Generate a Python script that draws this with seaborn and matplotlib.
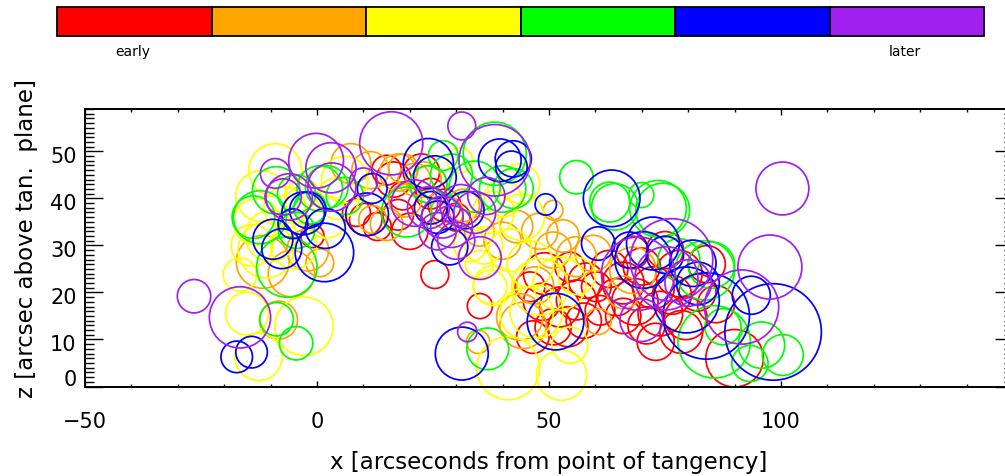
import numpy as np
import pandas as pd
import matplotlib
matplotlib.use("Agg")
import matplotlib.pyplot as plt
import seaborn as sns
from matplotlib.ticker import MultipleLocator
from matplotlib.transforms import ScaledTranslation

# ---- source positions (x, z) and radii, grouped by time bin -------------
phases = ["p1", "p2", "p3", "p4", "p5", "p6"]
phase_colors = ["#ff0000", "#ffa500", "#ffff00", "#00ff00", "#0000ff", "#a020f0"]

red_x = [15.0, 16.5, 10.5, 13.0, 8.5, 17.5, 20.0, 22.5, 24.5, 27.5, 25.4, 35.1, 30.0, 18.5, -1.0,
         45.9, 52.3, 55.9, 50.9, 54.1, 54.5, 60.2, 61.0, 48.5, 57.5, 49.0, 46.5, 58.0, 63.0,
         66.0, 68.5, 70.0, 72.5, 74.0, 76.5, 78.0, 71.0, 66.0, 79.5, 78.5, 82.0, 84.0, 90.0,
         64.5, 75.0, 68.0, 73.0, 86.0]
red_y = [46.0, 44.0, 35.5, 34.0, 37.0, 36.5, 33.0, 45.6, 41.0, 38.5, 23.8, 17.1, 36.0, 40.5, 32.0,
         21.2, 16.9, 18.4, 12.7, 12.7, 25.4, 21.2, 16.2, 18.0, 14.0, 24.0, 10.5, 22.5, 25.0,
         22.0, 18.0, 25.5, 21.0, 15.5, 19.5, 24.0, 13.0, 15.0, 14.5, 11.6, 20.0, 26.0, 6.0,
         19.0, 29.0, 28.5, 9.5, 17.5]
red_r = [3.2, 3.8, 3.5, 3.0, 3.0, 3.3, 3.9, 3.9, 3.3, 3.5, 3.0, 2.7, 3.0, 3.0, 2.5,
         3.2, 4.3, 4.3, 3.9, 4.3, 3.2, 3.2, 3.2, 4.0, 3.8, 4.5, 3.5, 3.8, 4.0,
         4.5, 5.0, 4.0, 4.5, 4.8, 4.2, 5.0, 4.0, 3.8, 4.6, 4.6, 4.0, 4.0, 6.2,
         4.0, 4.0, 3.5, 4.0, 4.0]

orange_x = [-11.7, 0.6, -8.3, 7.3, 18.6, 12.0, 15.0, -2.0, -5.5, 21.0,
            34.7, 44.4, 43.7, 50.9, 55.9, 59.5, 60.6, 50.9, 48.0, 43.0, 40.0, 53.0,
            28.0, 31.5, 35.0, 47.0, 24.0, 68.1, 66.0, 11.5, 17.5, 23.0, 19.0]
orange_y = [26.5, 26.3, 14.1, 47.4, 46.3, 35.5, 34.5, 29.0, 24.0, 44.0,
            9.5, 13.0, 14.8, 29.0, 27.6, 28.3, 13.8, 37.5, 33.0, 34.0, 31.0, 32.0,
            37.0, 38.5, 33.0, 21.5, 43.0, 24.7, 20.0, 46.0, 45.5, 44.0, 39.5]
orange_r = [5.7, 3.0, 4.1, 4.3, 3.2, 3.0, 3.5, 4.5, 5.0, 3.5,
            2.5, 5.0, 5.0, 3.9, 4.3, 3.9, 2.8, 2.1, 3.9, 3.5, 4.0, 3.5,
            3.5, 3.5, 3.2, 4.0, 4.0, 5.0, 3.5, 4.0, 4.0, 3.8, 3.5]

yellow_x = [-15.1, -12.6, -2.8, -16.6, -9.0, -12.0, -13.0, -10.0, -14.0, -11.0, -7.0, -5.0,
            -3.0, 2.0, 6.0, 4.5, 30.8, 41.2, 52.7, 38.0, 37.3, 41.6, 47.3, 54.5, 52.3,
            48.0, 45.2, 43.7, 38.0, 44.0, 36.0, 46.0, 33.0, 56.0, 40.0, 35.0]
yellow_y = [15.5, 6.3, 12.8, 23.8, 46.0, 40.5, 35.0, 32.0, 30.0, 29.0, 38.0, 30.0,
            40.0, 36.0, 44.0, 40.0, 48.1, 3.9, 2.4, 21.5, 21.2, 29.0, 15.9, 8.8, 21.9,
            21.2, 15.5, 43.1, 37.0, 36.0, 30.0, 26.0, 30.0, 23.5, 40.0, 26.0]
yellow_r = [4.6, 5.1, 6.3, 3.6, 5.7, 5.5, 5.0, 5.5, 4.5, 6.0, 4.5, 5.0,
            4.0, 4.5, 5.0, 4.5, 2.7, 6.8, 5.4, 4.3, 3.6, 4.6, 5.7, 3.9, 5.7,
            6.1, 5.7, 4.3, 4.5, 5.0, 4.0, 5.0, 3.5, 4.0, 4.0, 3.0]

green_x = [-8.7, -4.5, -6.5, -12.3, -8.8, -4.4, 0.6, -4.4, -13.7, 2.1, 6.0, -1.5,
           27.2, 38.3, 19.3, 55.9, 36.8, 40.0, 42.3, 24.0, 34.0, 29.0,
           64.2, 63.1, 73.5, 69.9, 74.5, 83.6, 85.0, 87.5, 100.4, 95.8, 93.3, 85.6, 78.0]
green_y = [14.3, 9.2, 25.4, 36.0, 41.7, 41.0, 42.1, 33.2, 36.0, 42.4, 40.5, 38.0,
           49.1, 49.5, 37.1, 44.5, 8.0, 42.0, 42.1, 43.0, 42.5, 45.0,
           38.2, 39.2, 37.8, 40.7, 37.5, 24.7, 25.8, 12.7, 6.7, 8.8, 4.9, 9.5, 27.0]
green_r = [3.6, 3.6, 6.5, 5.7, 5.1, 4.1, 4.9, 3.9, 4.6, 4.6, 4.0, 3.5,
           3.2, 6.8, 5.4, 3.6, 4.5, 5.0, 4.3, 4.0, 5.5, 4.5,
           5.0, 4.3, 6.1, 2.7, 5.8, 6.4, 5.0, 3.9, 4.4, 5.0, 3.9, 7.8, 4.5]

blue_x = [-17.3, -14.1, 1.6, -9.5, -5.2, 1.8, -2.0, 10.8, 11.9, -3.0, -7.6,
          24.0, 25.4, 39.4, 42.3, 41.9, 49.3, 31.2, 51.4, 28.6, 26.0, 32.0, 24.5,
          63.5, 60.6, 70.3, 72.4, 81.0, 82.1, 79.6, 67.4, 98.3, 93.6, 83.9, 75.0]
blue_y = [6.3, 7.3, 28.5, 31.3, 34.6, 33.6, 37.5, 36.6, 42.1, 36.8, 29.3,
          47.4, 44.5, 48.1, 48.4, 46.7, 38.7, 7.0, 13.8, 29.7, 36.0, 37.5, 38.0,
          40.0, 30.4, 26.9, 30.4, 26.2, 21.9, 18.4, 29.0, 11.6, 19.4, 15.0, 28.0]
blue_r = [3.4, 3.4, 6.3, 4.3, 3.2, 4.3, 3.9, 4.6, 3.2, 4.6, 4.3,
          5.4, 4.6, 4.6, 3.9, 3.4, 2.3, 5.7, 6.1, 3.9, 3.5, 4.0, 3.5,
          6.1, 3.6, 6.1, 5.7, 5.0, 4.6, 7.1, 3.9, 10.4, 4.1, 9.3, 4.0]

purple_x = [-26.5, -16.6, -9.0, -0.2, 3.0, 3.2, -6.0, -7.3, 16.0, 10.0,
            31.2, 38.3, 35.1, 32.4, 24.0, 27.0, 29.0, 31.0, 34.0, 26.0, 21.0, 36.5, 30.0,
            100.3, 97.6, 76.4, 75.3, 69.2, 69.9, 91.5, 80.0]
purple_y = [19.2, 14.7, 45.3, 48.0, 46.5, 42.4, 40.3, 40.3, 51.7, 43.5,
            55.4, 48.1, 27.3, 11.6, 38.0, 36.0, 34.0, 38.5, 37.0, 33.0, 39.0, 40.5, 31.0,
            42.1, 25.4, 26.9, 23.0, 24.0, 14.1, 16.9, 22.0]
purple_r = [3.6, 6.6, 3.2, 5.9, 5.4, 5.2, 5.0, 3.9, 6.8, 3.0,
            3.0, 7.7, 4.6, 2.1, 4.5, 4.5, 4.5, 4.5, 4.5, 4.0, 5.0, 4.0, 4.0,
            5.7, 6.9, 8.9, 6.8, 7.9, 4.6, 8.0, 5.0]

groups = {
    "p1": (red_x, red_y, red_r),
    "p2": (orange_x, orange_y, orange_r),
    "p3": (yellow_x, yellow_y, yellow_r),
    "p4": (green_x, green_y, green_r),
    "p5": (blue_x, blue_y, blue_r),
    "p6": (purple_x, purple_y, purple_r),
}

frames = []
for ph in phases:
    gx, gy, gr = groups[ph]
    frames.append(pd.DataFrame({"x": gx, "z": gy, "r": gr, "phase": ph}))
df = pd.concat(frames, ignore_index=True)

x_ticks = [-50, 0, 50, 100]
z_ticks = [0, 10, 20, 30, 40, 50]

# ---- figure ---------------------------------------------------------------
sns.set_theme(style="ticks")
plt.rcParams["font.family"] = ["DejaVu Sans"]
plt.rcParams["text.color"] = "black"
plt.rcParams["axes.labelcolor"] = "black"
plt.rcParams["xtick.color"] = "black"
plt.rcParams["ytick.color"] = "black"

W, H, DPI = 1005, 476, 100
fig = plt.figure(figsize=(W / DPI, H / DPI), dpi=DPI, facecolor="white")

# main panel (right side of frame runs just past the canvas edge)
ax_l, ax_r, ax_b, ax_t = 85, 1013, 386.5, 109
ax = fig.add_axes([ax_l / W, (H - ax_b) / H, (ax_r - ax_l) / W, (ax_b - ax_t) / H])
ax.set_facecolor("white")
ax.set_xlim(-50, 150)
ax.set_ylim(0, 59)

px_per_unit = ax.transData.transform((1, 0))[0] - ax.transData.transform((0, 0))[0]

for ph, col in zip(phases, phase_colors):
    sub = df[df["phase"] == ph]
    diam_pt = 2 * sub["r"].to_numpy() * px_per_unit * 72.0 / DPI
    sns.scatterplot(data=sub, x="x", y="z", s=diam_pt ** 2, marker="o",
                    color=col, facecolor="none", edgecolor=col, linewidth=1.25,
                    clip_on=False, legend=False, ax=ax, zorder=3)

ax.xaxis.set_major_locator(MultipleLocator(50))
ax.xaxis.set_minor_locator(MultipleLocator(10))
ax.yaxis.set_major_locator(MultipleLocator(10))
ax.yaxis.set_minor_locator(MultipleLocator(1))
ax.set_xticks(x_ticks)
ax.set_xticklabels(["\u221250", "0", "50", "100"])
ax.set_yticks(z_ticks)
ax.set_yticklabels([str(v) for v in z_ticks])
ax.set_xlim(-50, 150)
ax.set_ylim(0, 59)

ax.tick_params(axis="x", which="major", direction="in", length=4.2, width=1.0,
               top=True, bottom=True, labelsize=15, pad=18, colors="black")
ax.tick_params(axis="x", which="minor", direction="in", length=2.1, width=1.0,
               top=True, bottom=True, colors="black")
ax.tick_params(axis="y", which="major", direction="in", length=13, width=1.0,
               left=True, right=True, labelsize=15, pad=6, colors="black")
ax.tick_params(axis="y", which="minor", direction="in", length=6.5, width=1.0,
               left=True, right=True, colors="black")
for sp in ax.spines.values():
    sp.set_linewidth(1.4)
    sp.set_color("black")
    sp.set_zorder(5)

ax.set_xlabel("x [arcseconds from point of tangency]", fontsize=16.5, color="black")
ax.set_ylabel("z [arcsec above tan.  plane]", fontsize=16.5, color="black")
ax.xaxis.label.set_va("center")
ax.yaxis.label.set_va("center")
ax.xaxis.set_label_coords(0.5, (ax_b - 462) / (ax_b - ax_t))
ax.yaxis.set_label_coords((27 - ax_l) / (ax_r - ax_l), (ax_b - 238) / (ax_b - ax_t))

# colour key for the time bins
cax = fig.add_axes([57 / W, (H - 36) / H, (984 - 57) / W, 29 / H])
cax.bar(range(len(phases)), [1] * len(phases), width=1.0, color=phase_colors,
        edgecolor="black", linewidth=1.3, clip_on=False)
cax.set_xlim(-0.5, len(phases) - 0.5)
cax.set_ylim(0, 1)
cax.axis("off")
fig.text(133 / W, 1 - 52 / H, "early", ha="center", va="center", fontsize=10, color="black")
fig.text(905 / W, 1 - 52 / H, "later", ha="center", va="center", fontsize=10, color="black")

# nudge the z tick labels as drawn on the original plotting device
fig.canvas.draw()
for lab in ax.get_yticklabels():
    dy = 8.0 if lab.get_text() == "0" else -4.0
    lab.set_transform(lab.get_transform() + ScaledTranslation(0, dy / DPI, fig.dpi_scale_trans))

fig.savefig("out.png", dpi=DPI, facecolor="white")
